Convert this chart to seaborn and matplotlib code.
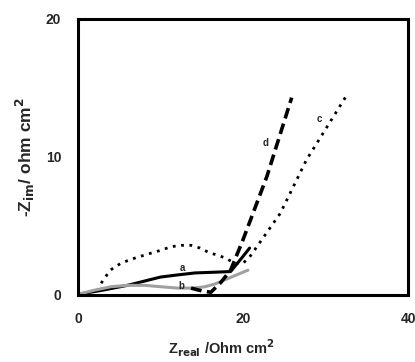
import pandas as pd
from matplotlib import pyplot as plt
import seaborn as sns
import numpy as np

# curve a (solid black)
a_x = [0.0, 3.0, 6.0, 8.0, 10.0, 12.0, 14.2, 16.5, 18.5, 19.6, 20.8]
a_y = [0.05, 0.35, 0.7, 1.0, 1.3, 1.45, 1.6, 1.65, 1.7, 2.5, 3.4]
# curve b (grey solid)
b_x = [0.0, 2.0, 4.0, 6.0, 8.1, 10.0, 12.1, 14.0, 15.4, 16.6, 17.8, 19.2, 20.6]
b_y = [0.05, 0.35, 0.6, 0.7, 0.7, 0.6, 0.5, 0.5, 0.6, 0.8, 1.1, 1.45, 1.8]
# curve c (dotted)
c_x = [2.8, 3.9, 5.2, 6.5, 8.1, 9.8, 11.3, 12.5, 13.7, 14.8, 15.8, 17.8, 19.0, 20.0, 20.8, 24.5, 27.7, 32.6]
c_y = [0.85, 1.8, 2.3, 2.6, 2.9, 3.2, 3.5, 3.6, 3.6, 3.4, 3.1, 2.7, 2.3, 2.3, 2.75, 5.9, 9.8, 14.5]
# curve d (dashed black)
d_x = [13.7, 15.0, 16.1, 17.3, 18.5, 20.0, 22.9, 25.9]
d_y = [0.5, 0.3, 0.2, 0.9, 1.8, 4.0, 8.6, 14.3]

sns.set_style('white')
plt.rcParams['font.family'] = ['Liberation Sans', 'DejaVu Sans']
plt.rcParams['font.weight'] = 'bold'

fig = plt.figure(figsize=(4.15, 3.62), dpi=100)
ax = fig.add_axes([78 / 415, 1 - 295 / 362, 330 / 415, 276 / 362])

sns.lineplot(x=a_x, y=a_y, sort=False, color='black', linewidth=2.2, ax=ax)
sns.lineplot(x=b_x, y=b_y, sort=False, color='#a0a0a0', linewidth=2.2, ax=ax)
sns.lineplot(x=c_x, y=c_y, sort=False, color='black', linewidth=2, ax=ax)
ax.lines[-1].set_linestyle((0, (1, 2)))
sns.lineplot(x=d_x, y=d_y, sort=False, color='black', linewidth=2.6, ax=ax)
ax.lines[-1].set_linestyle((0, (3, 1.5)))

ax.text(12.7, 1.75, 'a', fontsize=7, fontweight='bold', ha='center')
ax.text(12.5, 0.45, 'b', fontsize=7, fontweight='bold', ha='center')
ax.text(29.3, 12.5, 'c', fontsize=7, fontweight='bold', ha='center')
ax.text(22.7, 10.8, 'd', fontsize=7, fontweight='bold', ha='center')

ax.set_xlim(0, 40)
ax.set_ylim(0, 20)
ax.set_xticks([0, 20, 40])
ax.set_yticks([0, 10, 20])
ax.tick_params(direction='in', length=3, width=1.5, labelsize=10, pad=12)
for s in ax.spines.values():
    s.set_linewidth(2.2)
    s.set_color('black')

ax.set_xlabel('Z$_{\\mathbf{real}}$ /Ohm cm$^\\mathbf{2}$', fontsize=10.5, fontweight='bold')
ax.set_ylabel('-Z$_{\\mathbf{im}}$/ ohm cm$^\\mathbf{2}$', fontsize=12.5, fontweight='bold')
ax.xaxis.set_label_coords(0.435, -0.155)
ax.yaxis.set_label_coords(-0.125, 0.5)

fig.savefig('out.png', dpi=100)
